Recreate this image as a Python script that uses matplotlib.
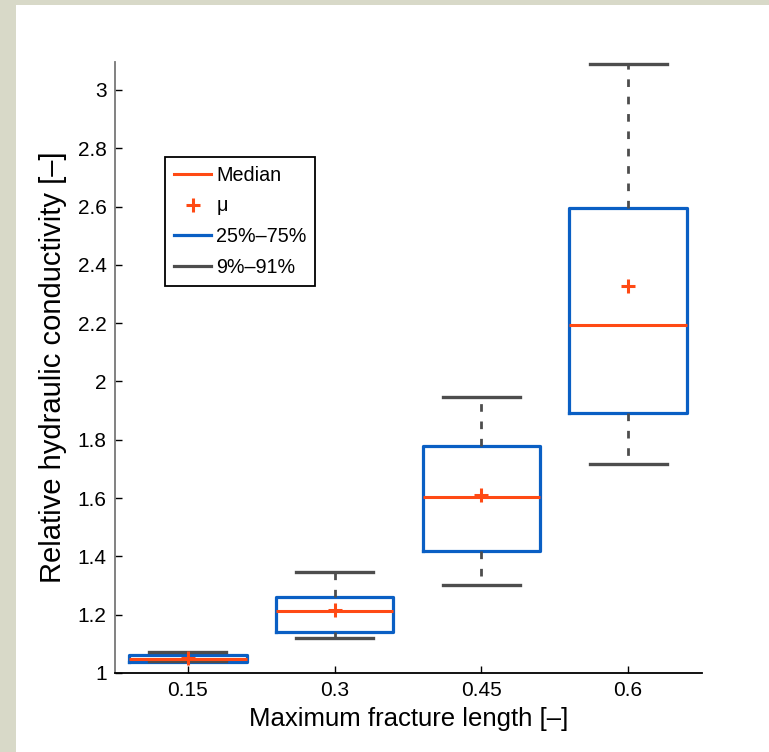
import matplotlib
matplotlib.use("Agg")
import matplotlib.pyplot as plt
from matplotlib.lines import Line2D
from matplotlib.patches import Rectangle

plt.rcParams['font.family'] = ['Liberation Sans', 'DejaVu Sans']
plt.rcParams['lines.scale_dashes'] = False

# maximum fracture length and the statistics of the relative conductivity
lengths = [0.15, 0.3, 0.45, 0.6]
p9 = [1.040, 1.120, 1.302, 1.717]
q1 = [1.039, 1.141, 1.418, 1.892]
median = [1.049, 1.213, 1.603, 2.194]
mean = [1.050, 1.216, 1.609, 2.328]
q3 = [1.061, 1.262, 1.780, 2.596]
p91 = [1.072, 1.347, 1.946, 3.089]

c_med = '#ff4a14'
c_box = '#0a5fc4'
c_whis = '#4d4d4d'

stats = []
for i in range(len(lengths)):
    stats.append(dict(med=median[i], q1=q1[i], q3=q3[i], whislo=p9[i],
                      whishi=p91[i], mean=mean[i], fliers=[]))

fig = plt.figure(figsize=(7.69, 7.52), dpi=100)
fig.patch.set_facecolor('#d8d9c8')
fig.patches.append(Rectangle((16 / 769, 0), 1, 1 - 5 / 752, transform=fig.transFigure,
                             facecolor='white', edgecolor='none', zorder=-10))

ax = fig.add_axes([115 / 769, 1 - 673 / 752, 587 / 769, 611 / 752])
ax.set_facecolor('white')

ax.bxp(stats, positions=lengths, widths=0.12, capwidths=0.0786, showmeans=True,
       showfliers=False, manage_ticks=False,
       boxprops=dict(color=c_box, linewidth=2.3),
       whiskerprops=dict(color=c_whis, linewidth=2.0, linestyle=(0, (5.5, 7))),
       capprops=dict(color=c_whis, linewidth=2.4),
       medianprops=dict(color=c_med, linewidth=2.2),
       meanprops=dict(marker='+', markersize=10, markeredgewidth=2.2,
                      markeredgecolor=c_med, markerfacecolor=c_med))

ax.set_xlim(0.0755, 0.6755)
ax.set_ylim(1, 3.096)
ax.set_xticks(lengths)
ax.set_xticklabels(['0.15', '0.3', '0.45', '0.6'])
ax.set_yticks([1, 1.2, 1.4, 1.6, 1.8, 2, 2.2, 2.4, 2.6, 2.8, 3])
ax.set_yticklabels(['1', '1.2', '1.4', '1.6', '1.8', '2', '2.2', '2.4', '2.6', '2.8', '3'])
ax.tick_params(direction='in', labelsize=15, length=5, width=1, pad=6)

ax.spines['top'].set_visible(False)
ax.spines['right'].set_visible(False)
ax.spines['left'].set_color('#777777')
ax.spines['left'].set_linewidth(1.3)
ax.spines['bottom'].set_color('black')
ax.spines['bottom'].set_linewidth(1.3)

ax.set_xlabel('Maximum fracture length [–]', fontsize=18.5, labelpad=5)
ax.set_ylabel('Relative hydraulic conductivity [–]', fontsize=21, labelpad=8)

handles = [
    Line2D([], [], color=c_med, linewidth=2.2),
    Line2D([], [], color=c_med, linestyle='none', marker='+', markersize=10, markeredgewidth=2.2),
    Line2D([], [], color=c_box, linewidth=2.3),
    Line2D([], [], color=c_whis, linewidth=2.3),
]
leg = ax.legend(handles, ['Median', 'μ', '25%–75%', '9%–91%'],
                loc='upper left', bbox_to_anchor=(0.085, 0.845), fontsize=14.2,
                handlelength=1.9, handletextpad=0.25, labelspacing=0.6,
                borderpad=0.45, borderaxespad=0, fancybox=False, framealpha=1)
leg.get_frame().set_edgecolor('black')
leg.get_frame().set_linewidth(1.3)

fig.savefig('out.png', dpi=100, facecolor=fig.get_facecolor())
